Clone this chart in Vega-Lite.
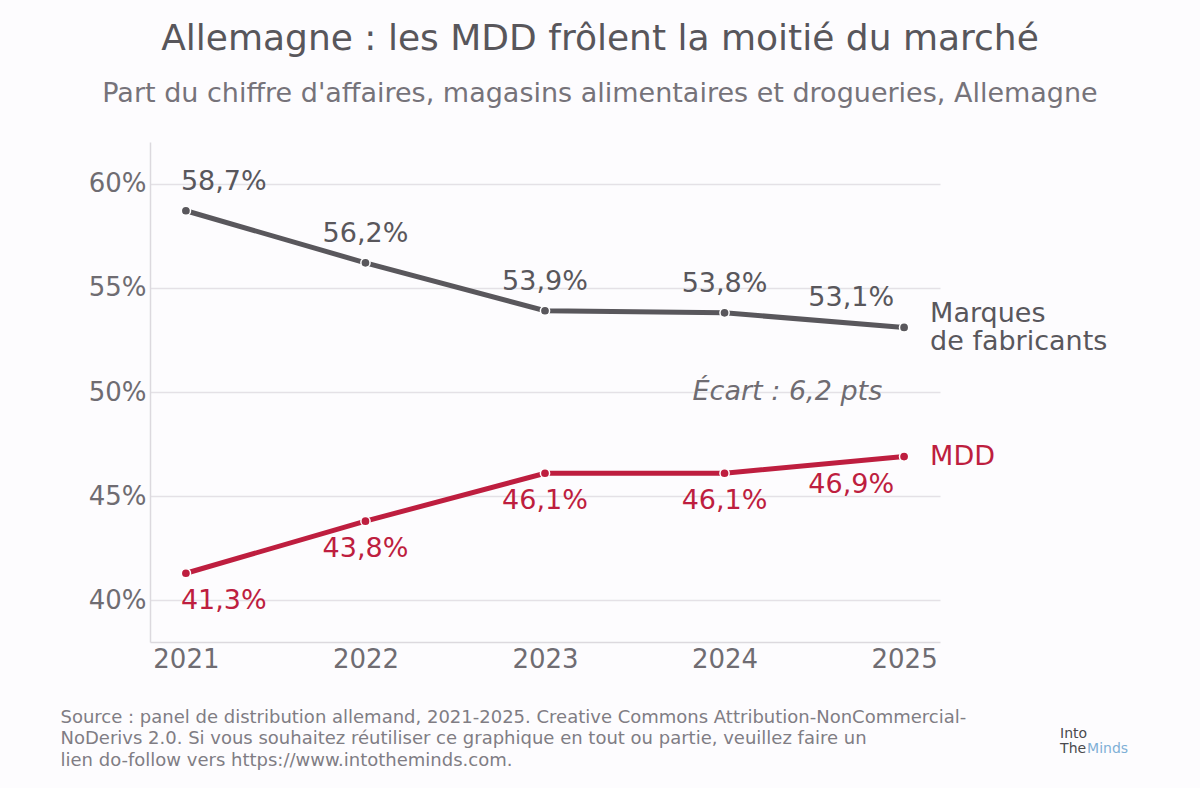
{
  "$schema": "https://vega.github.io/schema/vega-lite/v6.json",
  "width": 790,
  "height": 500,
  "autosize": "none",
  "padding": {"left": 150, "top": 142, "right": 260, "bottom": 146},
  "background": "#fdfcfe",
  "title": {
    "text": "Allemagne : les MDD frôlent la moitié du marché",
    "subtitle": "Part du chiffre d'affaires, magasins alimentaires et drogueries, Allemagne",
    "anchor": "middle",
    "frame": "group",
    "dx": 55,
    "offset": 34,
    "font": "DejaVu Sans",
    "fontSize": 36,
    "fontWeight": "normal",
    "color": "#58565b",
    "subtitleFont": "DejaVu Sans",
    "subtitleFontSize": 27,
    "subtitleColor": "#76737a",
    "subtitlePadding": 23
  },
  "data": {
    "values": [
      {"year": 2021, "serie": "Marques de fabricants", "value": 58.7},
      {"year": 2022, "serie": "Marques de fabricants", "value": 56.2},
      {"year": 2023, "serie": "Marques de fabricants", "value": 53.9},
      {"year": 2024, "serie": "Marques de fabricants", "value": 53.8},
      {"year": 2025, "serie": "Marques de fabricants", "value": 53.1},
      {"year": 2021, "serie": "MDD", "value": 41.3},
      {"year": 2022, "serie": "MDD", "value": 43.8},
      {"year": 2023, "serie": "MDD", "value": 46.1},
      {"year": 2024, "serie": "MDD", "value": 46.1},
      {"year": 2025, "serie": "MDD", "value": 46.9}
    ]
  },
  "transform": [
    {"calculate": "replace(format(datum.value, '.1f'), '.', ',') + '%'", "as": "label"}
  ],
  "encoding": {
    "x": {
      "field": "year",
      "type": "quantitative",
      "scale": {"domain": [2020.8, 2025.2], "nice": false, "zero": false},
      "axis": {
        "values": [2021, 2022, 2023, 2024, 2025],
        "format": "d",
        "grid": false,
        "labelPadding": 4,
        "title": [
          "Source : panel de distribution allemand, 2021-2025. Creative Commons Attribution-NonCommercial-",
          "NoDerivs 2.0. Si vous souhaitez réutiliser ce graphique en tout ou partie, veuillez faire un",
          "lien do-follow vers https://www.intotheminds.com."
        ],
        "titleFontSize": 18,
        "titleFontWeight": "normal",
        "titleColor": "#807d84",
        "titleAnchor": "start",
        "titleAlign": "left",
        "titleBaseline": "alphabetic",
        "titleX": -90,
        "titleY": 80,
        "titleLineHeight": 21.5
      }
    },
    "y": {
      "field": "value",
      "type": "quantitative",
      "scale": {"domain": [38, 62], "nice": false, "zero": false},
      "axis": {
        "values": [40, 45, 50, 55, 60],
        "labelExpr": "datum.value + '%'",
        "grid": true,
        "labelPadding": 4,
        "title": null
      }
    },
    "color": {
      "field": "serie",
      "type": "nominal",
      "scale": {"domain": ["Marques de fabricants", "MDD"], "range": ["#59575c", "#be1e3f"]},
      "legend": null
    }
  },
  "layer": [
    {"mark": {"type": "line", "strokeWidth": 5}},
    {"mark": {"type": "point", "filled": true, "size": 85, "opacity": 1, "stroke": "white", "strokeWidth": 1.5}},
    {
      "transform": [{"filter": "datum.serie != 'MDD' && datum.year == 2021"}],
      "mark": {"type": "text", "align": "left", "baseline": "alphabetic", "dx": -5, "dy": -21, "fontSize": 27},
      "encoding": {"text": {"field": "label"}}
    },
    {
      "transform": [{"filter": "datum.serie != 'MDD' && datum.year > 2021 && datum.year < 2025"}],
      "mark": {"type": "text", "align": "center", "baseline": "alphabetic", "dy": -21, "fontSize": 27},
      "encoding": {"text": {"field": "label"}}
    },
    {
      "transform": [{"filter": "datum.serie != 'MDD' && datum.year == 2025"}],
      "mark": {"type": "text", "align": "right", "baseline": "alphabetic", "dx": -10, "dy": -21, "fontSize": 27},
      "encoding": {"text": {"field": "label"}}
    },
    {
      "transform": [{"filter": "datum.serie == 'MDD' && datum.year == 2021"}],
      "mark": {"type": "text", "align": "left", "baseline": "alphabetic", "dx": -5, "dy": 36, "fontSize": 27},
      "encoding": {"text": {"field": "label"}}
    },
    {
      "transform": [{"filter": "datum.serie == 'MDD' && datum.year > 2021 && datum.year < 2025"}],
      "mark": {"type": "text", "align": "center", "baseline": "alphabetic", "dy": 36, "fontSize": 27},
      "encoding": {"text": {"field": "label"}}
    },
    {
      "transform": [{"filter": "datum.serie == 'MDD' && datum.year == 2025"}],
      "mark": {"type": "text", "align": "right", "baseline": "alphabetic", "dx": -10, "dy": 36, "fontSize": 27},
      "encoding": {"text": {"field": "label"}}
    },
    {
      "transform": [{"filter": "datum.serie != 'MDD' && datum.year == 2025"}],
      "mark": {"type": "text", "align": "left", "baseline": "middle", "dx": 26, "dy": -13, "fontSize": 27, "lineHeight": 28},
      "encoding": {"text": {"value": ["Marques", "de fabricants"]}}
    },
    {
      "transform": [{"filter": "datum.serie == 'MDD' && datum.year == 2025"}],
      "mark": {"type": "text", "align": "left", "baseline": "middle", "dx": 26, "dy": 0, "fontSize": 27},
      "encoding": {"text": {"value": "MDD"}}
    },
    {
      "transform": [{"filter": "datum.serie == 'MDD' && datum.year == 2024"}],
      "mark": {"type": "text", "align": "center", "baseline": "middle", "fontSize": 27, "fontStyle": "italic"},
      "encoding": {
        "x": {"datum": 2024.35},
        "y": {"datum": 50},
        "color": {"value": "#6f6c72"},
        "text": {"value": "Écart : 6,2 pts"}
      }
    },
    {
      "transform": [{"filter": "datum.serie == 'MDD' && datum.year == 2024"}],
      "mark": {"type": "text", "align": "left", "baseline": "alphabetic", "fontSize": 14, "lineHeight": 15},
      "encoding": {
        "x": {"datum": 2025.869},
        "y": {"datum": 33.41},
        "color": {"value": "#4a4a4d"},
        "text": {"value": ["Into", "The"]}
      }
    },
    {
      "transform": [{"filter": "datum.serie == 'MDD' && datum.year == 2024"}],
      "mark": {"type": "text", "align": "left", "baseline": "alphabetic", "dx": 27, "dy": 15, "fontSize": 14},
      "encoding": {
        "x": {"datum": 2025.869},
        "y": {"datum": 33.41},
        "color": {"value": "#7fb0d6"},
        "text": {"value": "Minds"}
      }
    }
  ],
  "config": {
    "font": "DejaVu Sans",
    "view": {"stroke": null},
    "axis": {
      "domainColor": "#dcd9de",
      "domainWidth": 1.5,
      "ticks": false,
      "gridColor": "#e4e1e6",
      "gridWidth": 1.5,
      "labelFontSize": 26,
      "labelColor": "#6f6c72",
      "labelFont": "DejaVu Sans"
    }
  }
}
